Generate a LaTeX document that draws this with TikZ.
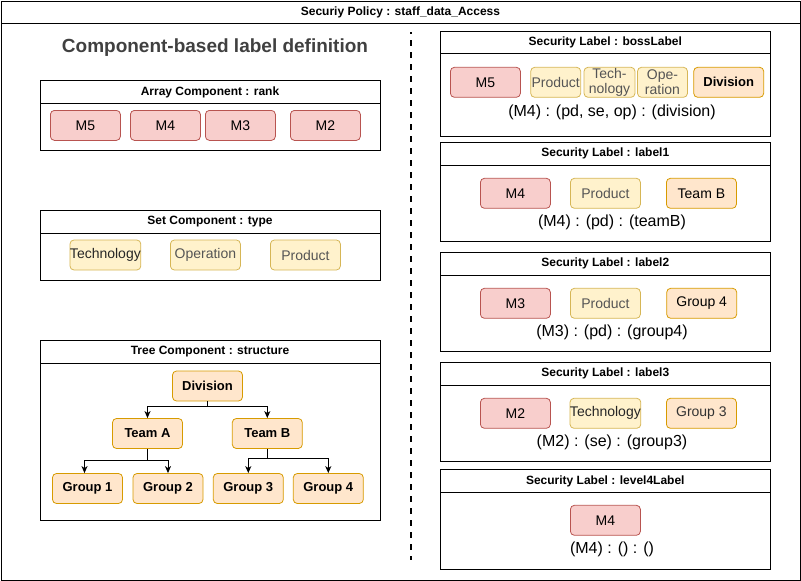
\documentclass[tikz,border=0pt]{standalone}
\usepackage{fontspec}
\setmainfont{Liberation Sans}
\usetikzlibrary{arrows.meta}
\definecolor{rfill}{HTML}{F8CECC}
\definecolor{rdraw}{HTML}{B85450}
\definecolor{yfill}{HTML}{FFF2CC}
\definecolor{ydraw}{HTML}{D6B656}
\definecolor{ofill}{HTML}{FFE6CC}
\definecolor{odraw}{HTML}{D79B00}
\definecolor{txtgray}{HTML}{555555}
\definecolor{titlegray}{HTML}{404040}
\tikzset{
  cell/.style={draw, rounded corners=4pt, minimum width=70pt, minimum height=30pt, inner sep=0pt, font=\fontsize{14}{15}\selectfont, line width=0.8pt, align=center},
  rcell/.style={cell, fill=rfill, draw=rdraw},
  ycell/.style={cell, fill=yfill, draw=ydraw, text=txtgray},
  ocell/.style={cell, fill=ofill, draw=odraw},
  hdr/.style={font=\bfseries\fontsize{12}{14}\selectfont},
  lbl/.style={font=\fontsize{16}{18}\selectfont},
  frame/.style={draw=black, line width=1pt},
  arr/.style={-{Stealth[length=7pt,width=6pt,inset=2pt]}, line width=1pt},
}
\begin{document}
\begin{tikzpicture}[x=1pt,y=-1pt]
\useasboundingbox (0,0) rectangle (801,581);
% outer frame
\draw[frame] (1,1) rectangle (800,580);
\draw[frame] (1,23) -- (800,23);
\node[hdr] (policy) at (400.5,12) {Securiy Policy : staff\_data\_Access};
% divider
\draw[line width=1.8pt, dash pattern=on 6pt off 6pt, dash phase=4pt] (411,32) -- (411,560);
% left title
\node[font=\bfseries\fontsize{19}{21}\selectfont, text=titlegray] (ttl) at (215,48) {Component-based label definition};

% Array component
\draw[frame] (40.5,80.5) rectangle (380,150);
\draw[frame] (40.5,103) -- (380,103);
\node[hdr] (arrh) at (210,92) {Array Component : rank};
\node[rcell] (a5) at (85.4,125.4) {M5};
\node[rcell] (a4) at (165.4,125.4) {M4};
\node[rcell] (a3) at (240.4,125.4) {M3};
\node[rcell] (a2) at (325.4,125.4) {M2};

% Set component
\draw[frame] (40.5,210.5) rectangle (380,280);
\draw[frame] (40.5,233) -- (380,233);
\node[hdr] (seth) at (210,222) {Set Component : type};
\node[ycell, text=black!85] (st) at (105.4,255) {Technology};
\node[ycell] (so) at (205.4,255) {Operation};
\node[ycell] (sp) at (305.4,255) {Product};

% Tree component
\draw[frame] (40.5,340.5) rectangle (380,520);
\draw[frame] (40.5,363) -- (380,363);
\node[hdr] (treeh) at (210,352) {Tree Component : structure};
\node[ocell, font=\bfseries\fontsize{13}{15}\selectfont] (div) at (207.5,386) {Division};
\node[ocell, font=\bfseries\fontsize{13}{15}\selectfont] (ta) at (147.5,433.5) {Team A};
\node[ocell, font=\bfseries\fontsize{13}{15}\selectfont] (tb) at (267.3,433.5) {Team B};
\node[ocell, font=\bfseries\fontsize{13}{15}\selectfont] (g1) at (87.5,488.5) {Group 1};
\node[ocell, font=\bfseries\fontsize{13}{15}\selectfont] (g2) at (168,488.5) {Group 2};
\node[ocell, font=\bfseries\fontsize{13}{15}\selectfont] (g3) at (248.3,488.5) {Group 3};
\node[ocell, font=\bfseries\fontsize{13}{15}\selectfont] (g4) at (328.3,488.5) {Group 4};
\draw[arr] (div.south) -- ++(0,5) -| (ta.north);
\draw[arr] (div.south) -- ++(0,5) -| (tb.north);
\draw[arr] (ta.south) -- ++(0,12) -| ([xshift=-3pt]g1.north);
\draw[arr] (ta.south) -- ++(0,12) -| (g2.north);
\draw[arr] (tb.south) -- ++(0,10) -| (g3.north);
\draw[arr] (tb.south) -- ++(0,10) -| (g4.north);

% bossLabel
\draw[frame] (440.5,31.5) rectangle (770,136.5);
\draw[frame] (440.5,53) -- (770,53);
\node[hdr] (bh) at (605.3,42.5) {Security Label : bossLabel};
\node[rcell] (b5) at (485.4,82.3) {M5};
\node[ycell, minimum width=50pt] (bp) at (555.7,82.3) {Product};
\node[ycell, minimum width=51pt] (bt) at (609.5,82.3) {Tech-\\nology};
\node[ycell, minimum width=50pt] (bo) at (662.5,82.3) {Ope-\\ration};
\node[ocell, font=\bfseries\fontsize{13}{15}\selectfont] (bd) at (728.7,82.3) {Division};
\node[lbl] (bl) at (612,112) {(M4) : (pd, se, op) : (division)};

% label1
\draw[frame] (440.5,142.5) rectangle (770,241.5);
\draw[frame] (440.5,165) -- (770,165);
\node[hdr] (l1h) at (605.3,153.5) {Security Label : label1};
\node[rcell] (l1m) at (515.4,193.3) {M4};
\node[ycell] (l1p) at (605.4,193.3) {Product};
\node[ocell] (l1t) at (701.4,193.3) {Team B};
\node[lbl] (l1l) at (612,222) {(M4) : (pd) : (teamB)};

% label2
\draw[frame] (440.5,252.5) rectangle (770,351.5);
\draw[frame] (440.5,275) -- (770,275);
\node[hdr] (l2h) at (605.3,263.5) {Security Label : label2};
\node[rcell] (l2m) at (515.4,303.3) {M3};
\node[ycell] (l2p) at (605.4,303.3) {Product};
\node[ocell] (l2g) at (701.7,303.3) {Group 4};
\node[lbl] (l2l) at (612,332.5) {(M3) : (pd) : (group4)};

% label3
\draw[frame] (440.5,362.5) rectangle (770,461.5);
\draw[frame] (440.5,385) -- (770,385);
\node[hdr] (l3h) at (605.3,373.5) {Security Label : label3};
\node[rcell] (l3m) at (515.4,413.3) {M2};
\node[ycell, text=black!85] (l3t) at (605.4,413.3) {Technology};
\node[ocell, text=black!80] (l3g) at (701.4,413.3) {Group 3};
\node[lbl] (l3l) at (612,442) {(M2) : (se) : (group3)};

% level4Label
\draw[frame] (440.5,469.5) rectangle (770,569.5);
\draw[frame] (440.5,492.3) -- (770,492.3);
\node[hdr] (l4h) at (605.3,481) {Security Label : level4Label};
\node[rcell] (l4m) at (605.4,520.3) {M4};
\node[lbl] (l4l) at (612,549.3) {(M4) : () : ()};
\end{tikzpicture}
\end{document}
